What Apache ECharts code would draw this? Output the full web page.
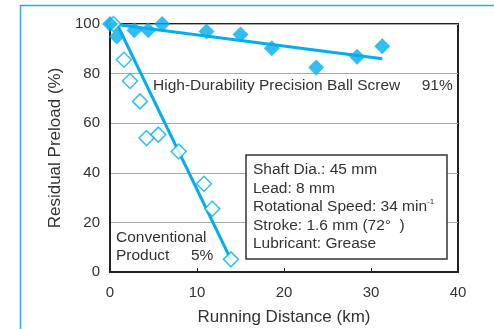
<!DOCTYPE html>
<html>
<head>
<meta charset="utf-8">
<script src="https://cdn.jsdelivr.net/npm/echarts@6/dist/echarts.min.js"></script>
<style>
  html, body { margin: 0; padding: 0; background: #fff; }
  #chart { width: 494px; height: 329px; }
</style>
</head>
<body>
<div id="chart"></div>
<script>
// values
const xTicks = [0, 10, 20, 30, 40];
const yTicks = [0, 20, 40, 60, 80, 100];

const durableDist = [0, 0.8, 2.8, 4.4, 6.0, 11.1, 15.0, 18.6, 23.7, 28.4, 31.3];
const durablePreload = [100, 95, 97.5, 97.5, 100, 97, 95.8, 90.2, 82.5, 86.8, 91];
const durableTrendDist = [0.3, 31.3];
const durableTrendPreload = [100, 86];

const convDist = [0.4, 1.6, 2.3, 3.45, 4.2, 5.55, 7.9, 10.8, 11.75, 13.9];
const convPreload = [100, 85.6, 77, 68.8, 54, 55.4, 48.6, 35.6, 25.5, 5.1];
const convTrendDist = [0.8, 13.9];
const convTrendPreload = [100, 5];

const blue = '#00aeef';
const font = '"Liberation Sans", Arial, sans-serif';

function pairs(xs, ys) {
  return xs.map((x, i) => [x, ys[i]]);
}

var chart = echarts.init(document.getElementById('chart'));
chart.setOption({
  animation: false,
  textStyle: { fontFamily: font },
  grid: {
    left: 110, top: 24, right: 36, bottom: 57,
    outerBoundsMode: 'none', containLabel: false,
    show: true, borderColor: '#222', borderWidth: 2, backgroundColor: 'transparent'
  },
  xAxis: {
    type: 'value',
    min: xTicks[0], max: xTicks[xTicks.length - 1], interval: 10,
    name: 'Running Distance (km)',
    nameLocation: 'middle', nameGap: 37,
    nameTextStyle: { fontSize: 17, color: '#333', fontFamily: font },
    axisLine: { show: true, lineStyle: { color: '#222', width: 2 } },
    axisTick: { show: true, inside: true, length: 4, lineStyle: { color: '#222' } },
    axisLabel: { fontSize: 15, color: '#333', margin: 13, fontFamily: font },
    splitLine: { show: false }
  },
  yAxis: {
    type: 'value',
    min: yTicks[0], max: yTicks[yTicks.length - 1], interval: 20,
    name: 'Residual Preload (%)',
    nameLocation: 'middle', nameGap: 37, nameRotate: 90,
    nameTextStyle: { fontSize: 17, color: '#333', fontFamily: font },
    axisLine: { show: true, lineStyle: { color: '#222', width: 2 } },
    axisTick: { show: false },
    axisLabel: { fontSize: 15, color: '#333', margin: 10, fontFamily: font },
    splitLine: { show: true, lineStyle: { color: '#aaa', width: 1 } }
  },
  series: [
    {
      type: 'line', data: pairs(durableTrendDist, durableTrendPreload),
      symbol: 'none', lineStyle: { color: blue, width: 3 }, z: 3, silent: true
    },
    {
      type: 'line', data: pairs(convTrendDist, convTrendPreload),
      symbol: 'none', lineStyle: { color: blue, width: 3 }, z: 3, silent: true
    },
    {
      type: 'scatter', data: pairs(convDist, convPreload),
      symbol: 'diamond', symbolSize: 15,
      itemStyle: { color: '#fff', borderColor: blue, borderWidth: 1.5 }, z: 4
    },
    {
      type: 'scatter', data: pairs(durableDist, durablePreload),
      symbol: 'diamond', symbolSize: 16,
      itemStyle: { color: blue }, z: 5
    }
  ],
  graphic: [
    // light blue frame
    {
      type: 'polyline', z: 0,
      shape: { points: [[20.5, 329], [20.5, 5.5], [494, 5.5]] },
      style: { stroke: '#19b4f0', lineWidth: 1.5, fill: null }
    },
    {
      type: 'text', left: 153, top: 78, z: 10,
      style: { text: 'High-Durability Precision Ball Screw     91%', fontSize: 15.5, fill: '#333', fontFamily: font }
    },
    {
      type: 'text', left: 116, top: 229, z: 10,
      style: { text: 'Conventional\nProduct     5%', fontSize: 15.5, lineHeight: 18, fill: '#333', fontFamily: font }
    },
    {
      type: 'rect', z: 9,
      shape: { x: 246, y: 155, width: 201, height: 104 },
      style: { fill: '#fff', stroke: '#333', lineWidth: 1.5 }
    },
    {
      type: 'text', left: 253, top: 161, z: 10,
      style: {
        text: 'Shaft Dia.: 45 mm\nLead: 8 mm\nRotational Speed: 34 min{sup|-1}\nStroke: 1.6 mm (72°  )\nLubricant: Grease',
        fontSize: 15.5, lineHeight: 18.4, fill: '#333', fontFamily: font,
        rich: { sup: { fontSize: 8, verticalAlign: 'top', lineHeight: 18.4, fill: '#333', padding: [0, 0, 6, 0] } }
      }
    }
  ]
});
</script>
</body>
</html>
